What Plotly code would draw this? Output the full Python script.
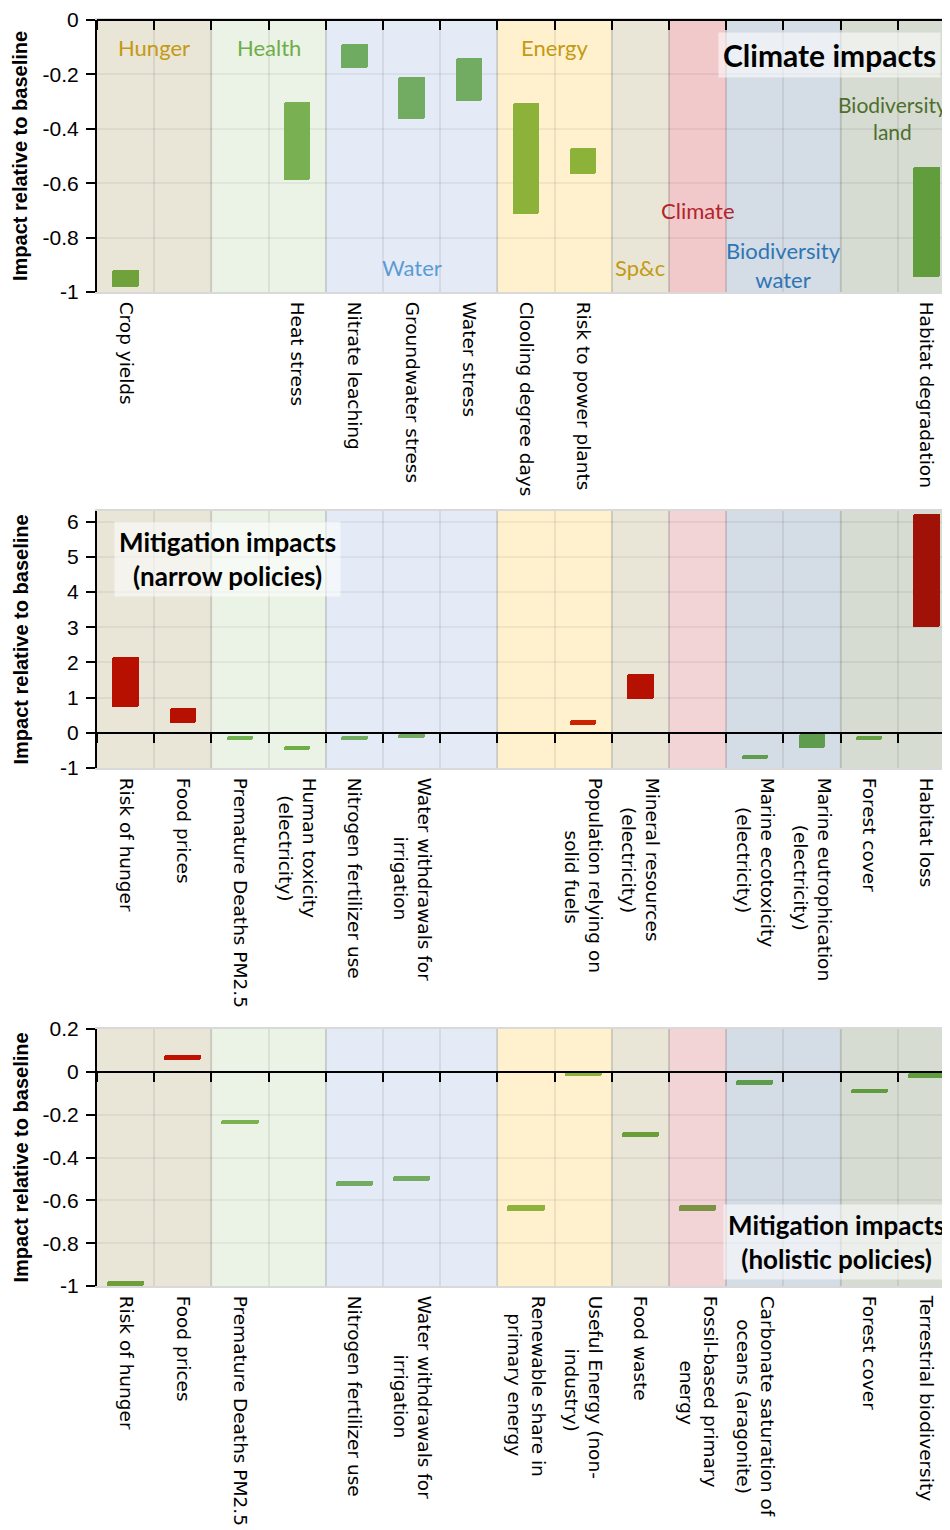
import plotly.graph_objects as go

# page offset of the figure (browser body margin) and figure size
OFF = 8
W, H = 950 - OFF, 1530 - OFF

# ---------------- data ----------------
group_names = ["Hunger", "Health", "Water", "Energy", "Sp&c", "Climate",
               "Biodiversity<br>water", "Biodiversity<br>land"]
group_sizes = [2, 2, 3, 2, 1, 1, 2, 2]
group_fill = ["#E9E5D7", "#EBF3E6", "#E5EBF6", "#FFF1CD", "#E9E6D8", "#F2D3D6",
              "#D4DCE5", "#D6DCD1"]
group_fill_p1 = ["#E9E5D7", "#EBF3E6", "#E5EBF6", "#FFF1CD", "#E9E6D8", "#F1C9CB",
                 "#D4DCE5", "#D6DCD1"]
group_label_color = ["#C49A12", "#70AD47", "#5B9BD5", "#C49A12", "#C49A12", "#B3242B",
                     "#2E75B6", "#4E6E2E"]
group_label_y = [-0.1, -0.1, -0.91, -0.1, -0.91, -0.70, -0.9, -0.36]

# Panel 1: climate impacts
p1_labels = ["Crop yields", "", "", "Heat stress", "Nitrate leaching", "Groundwater stress",
             "Water stress", "Clooling degree days", "Risk to power plants", "", "", "", "", "",
             "Habitat degradation"]
p1_lo = [-0.98, None, None, -0.59, -0.175, -0.363, -0.296, -0.713, -0.566, None, None, None,
         None, None, -0.944]
p1_hi = [-0.92, None, None, -0.30, -0.087, -0.208, -0.138, -0.305, -0.471, None, None, None,
         None, None, -0.541]
p1_col = ["#6FA23A", None, None, "#79B152", "#70AB62", "#72AC63", "#72AC63", "#8DB23A",
          "#8DB23A", None, None, None, None, None, "#619C3D"]

# Panel 2: mitigation impacts (narrow policies)
p2_labels = ["Risk of hunger", "Food prices", "Premature Deaths PM2.5",
             "Human toxicity<br>(electricity)", "Nitrogen fertilizer use",
             "Water withdrawals for<br>irrigation", "", "",
             "Population relying on<br>solid fuels", "Mineral resources<br>(electricity)", "",
             "Marine ecotoxicity<br>(electricity)", "Marine eutrophication<br>(electricity)",
             "Forest cover", "Habitat loss"]
p2_lo = [0.73, 0.29, -0.21, -0.49, -0.20, -0.15, None, None, 0.23, 0.97, None, -0.75, -0.43,
         -0.21, 3.0]
p2_hi = [2.16, 0.71, -0.09, -0.38, -0.08, -0.03, None, None, 0.36, 1.66, None, -0.62, -0.04,
         -0.08, 6.22]
p2_col = ["#B81000", "#B81000", "#71B154", "#6DAF45", "#72AC63", "#72AC63", None, None,
          "#CC2200", "#B51000", None, "#5F9C4E", "#5F9C4E", "#64A043", "#A01208"]

# Panel 3: mitigation impacts (holistic policies)
p3_labels = ["Risk of hunger", "Food prices", "Premature Deaths PM2.5", "",
             "Nitrogen fertilizer use", "Water withdrawals for<br>irrigation", "",
             "Renewable share in<br>primary energy", "Useful Energy (non-<br>industry)",
             "Food waste", "Fossil-based primary<br>energy",
             "Carbonate saturation of<br>oceans (aragonite)", "", "Forest cover",
             "Terrestrial biodiversity"]
p3_lo = [-1.0, 0.055, -0.245, None, -0.533, -0.508, None, -0.648, -0.02, -0.305, -0.648,
         -0.061, None, -0.101, -0.028]
p3_hi = [-0.978, 0.077, -0.225, None, -0.512, -0.486, None, -0.624, 0.0, -0.282, -0.624,
         -0.038, None, -0.078, -0.005]
p3_col = ["#6E9E3A", "#BF1100", "#7BB152", None, "#72AC63", "#72AC63", None, "#8DB33A",
          "#8DB33A", "#6A9E3A", "#7B9343", "#5E9C4C", None, "#5E9C3E", "#5E9C3E"]

p1_ticks = [0, -0.2, -0.4, -0.6, -0.8, -1]
p1_ticktext = ["0", "-0.2", "-0.4", "-0.6", "-0.8", "-1"]
p2_ticks = [6, 5, 4, 3, 2, 1, 0, -1]
p2_ticktext = ["6", "5", "4", "3", "2", "1", "0", "-1"]
p3_ticks = [0.2, 0, -0.2, -0.4, -0.6, -0.8, -1]
p3_ticktext = ["0.2", "0", "-0.2", "-0.4", "-0.6", "-0.8", "-1"]

titles = ["Climate impacts", "Mitigation impacts<br>(narrow policies)",
          "Mitigation impacts<br>(holistic policies)"]
ytitle = "Impact relative to baseline"

# ---------------- helpers (styling only) ----------------
_w = {"i": .278, "j": .278, "l": .278, "f": .352, "t": .392, "r": .411, "s": .521,
      "z": .525, "c": .55, "k": .579, "v": .592, "x": .592, "y": .592, "m": .974,
      "w": .818, " ": .318, "(": .39, ")": .39, "-": .361, ".": .318, "I": .295,
      "M": .863, "W": .989, "E": .632, "F": .575, "P": .603}


def _tw(s):
    return sum(_w.get(ch, .72 if ch.isupper() else .62) for ch in s)


def center_lines(label):
    """Pad following lines with no-break spaces so that they sit centred under line 1."""
    parts = label.split("<br>")
    if len(parts) < 2:
        return label
    w0 = _tw(parts[0])
    out = [parts[0]]
    for q in parts[1:]:
        k = max(0, round((w0 - _tw(q)) / 2 / .318))
        out.append("&nbsp;" * k + q)
    return "<br>".join(out)


def px_x(v):
    return (v - OFF) / W


def px_y(v):
    return 1 - (v - OFF) / H


# ---------------- layout constants (page pixels) ----------------
n = 15
x_left_px = 97
col_px = 57.2                      # column width in the reference
x_right_val = -0.5 + (950 - x_left_px) / col_px   # category value at the page edge
panels = [
    dict(labels=p1_labels, lo=p1_lo, hi=p1_hi, col=p1_col, rng=[-1, 0], tv=p1_ticks,
         tt=p1_ticktext, top=20, bot=292, width=0.46, fills=group_fill_p1,
         title_box=(829, 55.5), tsize=30),
    dict(labels=p2_labels, lo=p2_lo, hi=p2_hi, col=p2_col, rng=[-1, 6.3], tv=p2_ticks,
         tt=p2_ticktext, top=511, bot=768, width=0.46, fills=group_fill,
         title_box=(227, 558.5), tsize=26),
    dict(labels=p3_labels, lo=p3_lo, hi=p3_hi, col=p3_col, rng=[-1, 0.2], tv=p3_ticks,
         tt=p3_ticktext, top=1029, bot=1286, width=0.65, fills=group_fill,
         title_box=(836, 1242), tsize=26),
]

fig = go.Figure()
layout = dict(width=W, height=H, margin=dict(l=0, r=0, t=0, b=0, autoexpand=False),
              paper_bgcolor="white", plot_bgcolor="rgba(0,0,0,0)",
              showlegend=False, barcornerradius=2.5, bargap=0,
              font=dict(family="DejaVu Sans", color="black"))
shapes = []
annotations = []

bounds = [-0.5]
for s in group_sizes:
    bounds.append(bounds[-1] + s)

for i, p in enumerate(panels):
    k = i + 1
    xs = "x" if k == 1 else f"x{k}"
    ys = "y" if k == 1 else f"y{k}"
    xname = "xaxis" if k == 1 else f"xaxis{k}"
    yname = "yaxis" if k == 1 else f"yaxis{k}"
    zs = f"x{k + 3}"
    zname = f"xaxis{k + 3}"
    dom_y = [px_y(p["bot"]), px_y(p["top"])]
    dom_x = [px_x(x_left_px), 1.0]
    xr = [-0.5, x_right_val]

    xi = [j for j in range(n) if p["lo"][j] is not None]
    fig.add_trace(go.Bar(
        x=xi,
        y=[p["hi"][j] - p["lo"][j] for j in xi],
        base=[p["lo"][j] for j in xi],
        marker=dict(color=[p["col"][j] for j in xi], line=dict(width=0)),
        width=p["width"], xaxis=xs, yaxis=ys, hoverinfo="skip"))
    # empty trace that only registers the zero-line axis
    fig.add_trace(go.Scatter(x=[None], y=[None], xaxis=zs, yaxis=ys, mode="markers",
                             hoverinfo="skip"))

    layout[xname] = dict(
        domain=dom_x, anchor=ys, range=xr, showgrid=False, automargin=False,
        tickmode="array", tickvals=list(range(n)),
        ticktext=[center_lines(t) for t in p["labels"]],
        tickangle=90, ticks="", ticklabelstandoff=4,
        tickfont=dict(family="DejaVu Sans", size=18.5, color="black"),
        showline=True, linecolor="#D9D9D9", linewidth=2, mirror=True,
        zeroline=False, fixedrange=True,
        minor=dict(tickmode="array", tickvals=[b + 0.5 for b in range(-1, n)],
                   showgrid=True, gridcolor="rgba(0,0,0,0.07)", gridwidth=1.5, ticks=""))
    layout[yname] = dict(
        domain=dom_y, anchor=xs, range=p["rng"], tickmode="array", tickvals=p["tv"],
        ticktext=p["tt"], ticks="outside", ticklen=9, tickwidth=1.5, tickcolor="black",
        ticklabelstandoff=3,
        showline=True, linecolor="black", linewidth=2, automargin=False,
        tickfont=dict(family="Liberation Sans", size=21, color="black"),
        showgrid=True, gridcolor="rgba(0,0,0,0.05)", gridwidth=2, zeroline=False,
        fixedrange=True)

    r0, r1 = p["rng"]
    zpos = dom_y[0] + (0 - r0) / (r1 - r0) * (dom_y[1] - dom_y[0])
    layout[zname] = dict(
        overlaying=xs, anchor="free", position=zpos, side="bottom", domain=dom_x,
        range=xr, tickmode="array", automargin=False,
        tickvals=[b + 0.5 for b in range(-1, n - 1)], ticks="outside", ticklen=9,
        tickwidth=1.5, tickcolor="black", showticklabels=False, showline=True,
        linecolor="black", linewidth=1.5, showgrid=False, zeroline=False, fixedrange=True)

    for g in range(len(group_sizes)):
        shapes.append(dict(type="rect", xref=xs, yref=f"{ys} domain",
                           x0=bounds[g], x1=bounds[g + 1], y0=0, y1=1,
                           fillcolor=p["fills"][g], line=dict(width=0), layer="below"))
        if g > 0:
            shapes.append(dict(type="line", xref=xs, yref=f"{ys} domain",
                               x0=bounds[g], x1=bounds[g], y0=0, y1=1,
                               line=dict(color="rgba(0,0,0,0.10)", width=1.5),
                               layer="below"))

    annotations.append(dict(text=f"<b>{ytitle}</b>", xref="paper", yref="paper",
                            x=px_x(20), y=(dom_y[0] + dom_y[1]) / 2, textangle=-90,
                            showarrow=False, xanchor="center", yanchor="middle",
                            font=dict(family="Liberation Sans", size=20, color="black")))
    tx, ty = p["title_box"]
    annotations.append(dict(text=f"<b>{titles[i]}</b>", xref="paper", yref="paper",
                            x=px_x(tx), y=px_y(ty), showarrow=False, xanchor="center",
                            yanchor="middle", align="center",
                            bgcolor="rgba(255,255,255,0.55)", borderpad=4,
                            font=dict(family="Lato", size=p["tsize"], color="black")))

for g, name in enumerate(group_names):
    last = g == len(group_names) - 1
    annotations.append(dict(text=name, xref="x", yref="y",
                            x=(bounds[g] + bounds[g + 1]) / 2 - (0.1 if last else 0),
                            y=group_label_y[g],
                            showarrow=False, xanchor="center", yanchor="middle",
                            align="center",
                            font=dict(family="Lato", size=21 if last else 22,
                                      color=group_label_color[g])))

layout["shapes"] = shapes
layout["annotations"] = annotations
fig.update_layout(**layout)
fig.write_html("out.html")
